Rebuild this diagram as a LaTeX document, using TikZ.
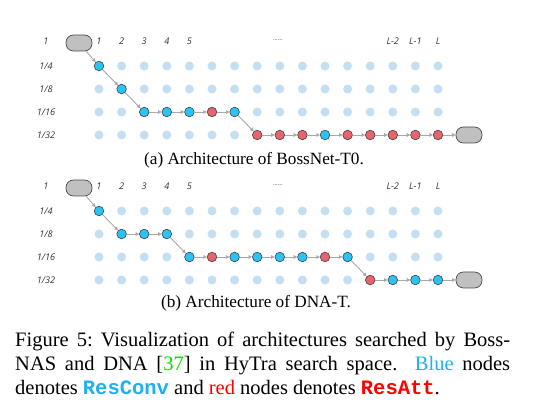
\documentclass[tikz,border=0pt]{standalone}
\usepackage{fontspec}
\setmainfont{Liberation Serif}
\setmonofont{Liberation Mono}
\newfontfamily\labfont{Open Sans}
\usepackage{xcolor}
\usetikzlibrary{arrows.meta}
\definecolor{dotbg}{HTML}{C4DEF2}
\definecolor{conv}{HTML}{29C4F4}
\definecolor{att}{HTML}{E8646C}
\definecolor{pillgray}{HTML}{C0C0C0}
\definecolor{edgegray}{HTML}{A8A8A8}
\definecolor{labtext}{HTML}{333333}
\definecolor{capblue}{HTML}{1FB0F0}
\definecolor{citegreen}{HTML}{00E000}
\tikzset{
  bg/.style={circle, fill=dotbg, inner sep=0pt, minimum size=9pt},
  cdot/.style={circle, fill=conv, draw=black!75, line width=0.6pt, inner sep=0pt, minimum size=9.6pt},
  adot/.style={circle, fill=att, draw=black!75, line width=0.6pt, inner sep=0pt, minimum size=9.6pt},
  pill/.style={fill=pillgray, draw=black!70, line width=0.7pt, rounded corners=7.5pt, minimum width=26pt, minimum height=16pt, inner sep=0pt},
  edge/.style={draw=edgegray, line width=0.9pt, -{Triangle[length=3.6pt,width=3.6pt]}},
  lab/.style={text=labtext, font=\labfont\itshape\fontsize{9.2}{10}\selectfont, inner sep=0pt},
  figcap/.style={font=\fontsize{20.5}{24}\selectfont, inner sep=0pt, anchor=base west},
  subcap/.style={font=\fontsize{17.2}{20}\selectfont, inner sep=0pt, anchor=base},
}

\begin{document}
\begin{tikzpicture}[x=1pt,y=-1pt]
  \useasboundingbox (0,0) rectangle (533,411);
  \def\dx{22.6}
  \def\dy{23}
  % grid of both panels
  \foreach \p/\oy in {a/0,b/145}{
    \node[lab] (\p-l0) at (46,41+\oy) {1};
    \foreach \r/\t in {1/{1/4},2/{1/8},3/{1/16},4/{1/32}}
      \node[lab] (\p-l\r) at (46,{66+(\r-1)*\dy+\oy}) {\t};
    \foreach \c/\t in {1/1,2/2,3/3,4/4,5/5,14/L-2,15/L-1,16/L}
      \node[lab] (\p-h\c) at ({99+(\c-1)*\dx},41+\oy) {\t};
    \node[lab, font=\labfont\fontsize{6}{6}\selectfont] (\p-h9) at ({99+8*\dx-2},40+\oy) {......};
    \foreach \c in {1,...,16}
      \foreach \r in {1,...,4}
        \node[bg] (\p-\c-\r) at ({99+(\c-1)*\dx},{66+(\r-1)*\dy+\oy}) {};
    \node[pill] (\p-in) at (79,43+\oy) {};
    \node[pill] (\p-out) at (469,{66+3*\dy+\oy}) {};
  }

  % (a) BossNet-T0
  \def\routea{1/1/c,2/2/c,3/3/c,4/3/c,5/3/c,6/3/a,7/3/c,8/4/a,9/4/a,10/4/a,11/4/c,12/4/a,13/4/a,14/4/a,15/4/a,16/4/a}
  \foreach \c/\r/\k in \routea
    \node[\k dot] (a-n\c) at (a-\c-\r) {};
  \draw[edge] (a-in) -- (a-n1);
  \foreach \c in {1,...,15}{
    \pgfmathtruncatemacro\nx{\c+1}
    \draw[edge] (a-n\c) -- (a-n\nx);
  }
  \draw[edge] (a-n16) -- (a-out);
  \node[subcap] (capa) at (254,164.5) {(a) Architecture of BossNet-T0.};

  % (b) DNA-T
  \def\routeb{1/1/c,2/2/c,3/2/c,4/2/c,5/3/c,6/3/a,7/3/c,8/3/c,9/3/c,10/3/c,11/3/a,12/3/c,13/4/a,14/4/c,15/4/c,16/4/c}
  \foreach \c/\r/\k in \routeb
    \node[\k dot] (b-n\c) at (b-\c-\r) {};
  \draw[edge] (b-in) -- (b-n1);
  \foreach \c in {1,...,15}{
    \pgfmathtruncatemacro\nx{\c+1}
    \draw[edge] (b-n\c) -- (b-n\nx);
  }
  \draw[edge] (b-n16) -- (b-out);
  \node[subcap] (capb) at (256,308) {(b) Architecture of DNA-T.};

  % figure caption
  \node[figcap] (cap1) at (15,346.5) {\makebox[495pt][s]{Figure 5:\ Visualization of architectures searched by Boss-}};
  \node[figcap] (cap2) at (15,370.5) {\makebox[495pt][s]{NAS and DNA [\textcolor{citegreen}{37}] in HyTra search space.\ \ \textcolor{capblue}{Blue} nodes}};
  \node[figcap] (cap3) at (15,394.5) {denotes \textcolor{capblue}{\ttfamily\bfseries ResConv} and \textcolor{red}{red} nodes denotes \textcolor{red}{\ttfamily\bfseries ResAtt}.};
\end{tikzpicture}
\end{document}
